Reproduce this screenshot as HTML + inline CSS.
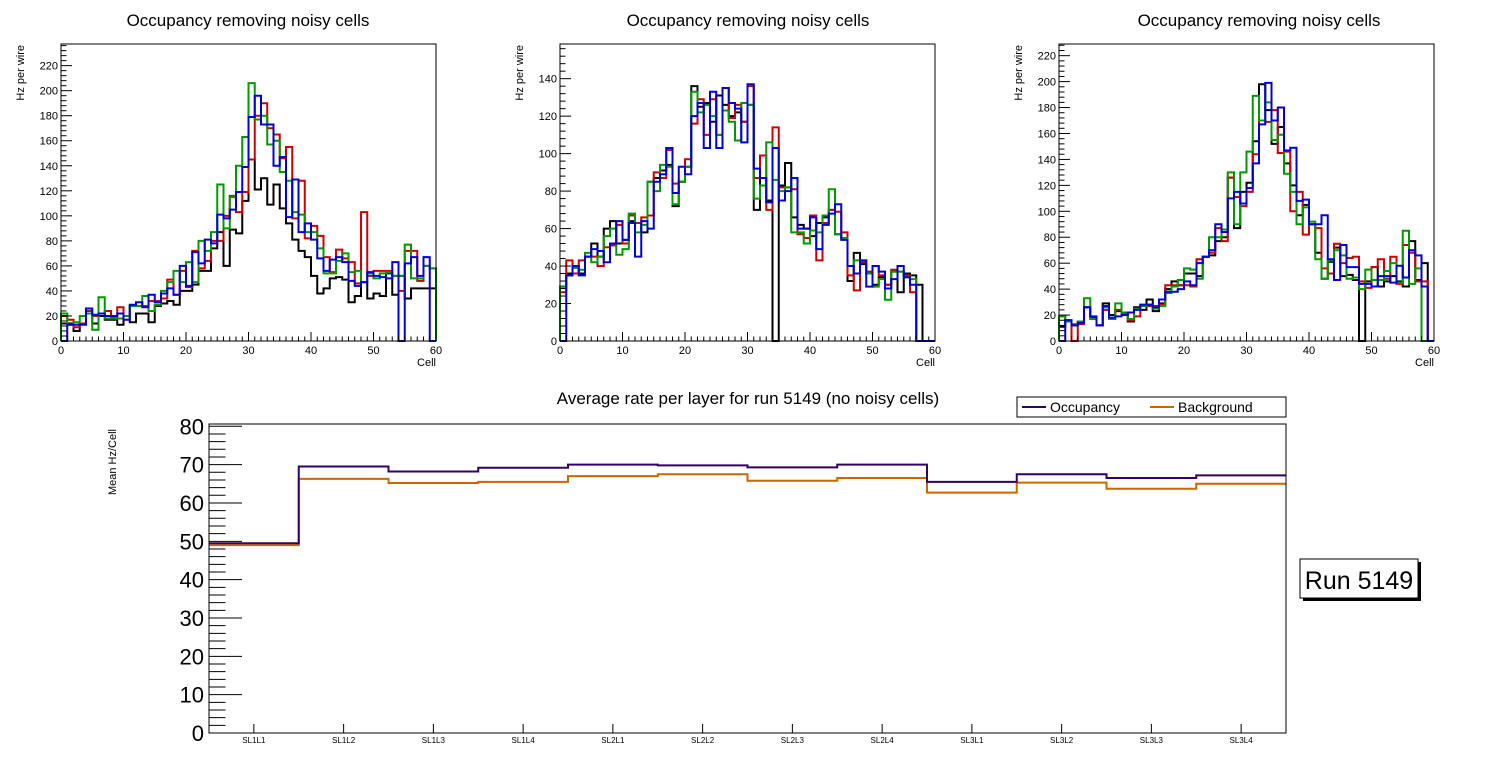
<!DOCTYPE html>
<html><head><meta charset="utf-8"><style>
html,body{margin:0;padding:0;background:#fff;}
svg{display:block;font-family:"Liberation Sans",sans-serif;}
</style></head><body>
<svg id="root" width="1496" height="772" viewBox="0 0 1496 772">
<rect width="1496" height="772" fill="#fff"/>
</svg>
<script>
const NS="http://www.w3.org/2000/svg";
const root=document.getElementById('root');
// ---------- data: top panels ----------
const cellBins=60;
const p1Black=[14,14,8,14,22,14,20,17,17,13,20,15,22,22,15,28,30,32,29,40,40,45,56,56,74,87,60,89,86,112,145,121,130,109,125,106,94,81,72,67,52,38,42,50,51,49,31,36,47,34,38,36,54,37,52,34,42,42,42,42];
const p1Red=[20,17,11,14,24,20,22,24,19,27,20,28,28,28,32,32,34,49,37,56,43,72,58,64,80,80,100,116,103,119,145,180,190,170,165,146,155,98,128,82,92,84,67,55,73,66,63,46,103,52,56,56,56,52,40,72,72,48,60,58];
const p1Green=[22,13,15,20,22,9,35,18,18,18,20,28,28,36,24,29,40,47,56,47,63,47,80,72,87,125,90,115,140,163,206,177,180,157,160,135,128,103,101,87,87,74,54,54,64,70,55,56,47,54,50,54,55,52,52,77,50,50,60,58];
const p1Blue=[0,13,13,13,26,21,22,20,20,22,17,29,31,27,37,31,38,42,37,60,44,71,62,81,78,101,98,105,119,139,179,196,173,173,140,147,99,129,87,94,81,66,56,65,67,63,48,44,47,55,52,51,50,63,0,62,67,52,67,0];
const p2Black=[29,36,40,36,45,52,45,60,64,52,54,64,63,58,85,87,91,94,72,85,93,136,125,127,117,131,126,120,122,117,126,70,87,75,0,83,95,66,62,60,56,63,66,70,57,55,32,47,41,36,30,34,30,37,26,36,35,30,0,0];
const p2Red=[26,43,36,43,45,45,40,50,51,62,52,67,63,66,67,90,87,102,84,85,97,116,129,110,129,110,135,119,126,117,136,87,99,70,114,82,82,81,57,55,67,43,63,70,69,58,35,27,42,37,40,35,30,38,37,35,26,0,0,0];
const p2Green=[29,35,39,38,47,42,45,56,60,46,49,68,58,62,85,80,94,93,73,85,93,133,122,126,120,110,123,117,107,127,126,76,83,106,86,80,82,58,58,52,59,58,67,81,57,55,40,43,43,36,29,33,22,37,37,34,33,0,0,0];
const p2Blue=[0,35,40,35,45,49,48,42,52,64,54,63,45,64,60,85,89,103,79,93,89,120,127,103,133,103,135,127,124,106,137,92,87,74,103,75,80,87,60,60,66,49,62,68,73,54,40,36,43,29,40,37,28,33,40,34,30,0,0,0];
const p3Black=[11,16,12,15,26,18,12,29,20,23,22,15,26,24,32,23,29,40,46,43,52,52,50,65,66,77,80,126,87,115,122,154,198,178,152,165,137,120,97,105,90,68,48,61,72,50,51,47,0,46,57,42,46,50,46,42,77,47,60,0];
const p3Red=[19,15,0,13,26,17,12,24,17,24,21,16,19,27,27,27,28,43,43,43,43,42,63,65,68,87,77,126,111,104,115,144,170,169,178,145,146,100,115,82,90,87,56,52,75,60,64,65,46,41,57,63,48,65,44,74,68,46,46,0];
const p3Green=[19,15,13,15,33,17,12,26,17,29,22,17,25,27,28,25,27,37,42,47,56,55,48,65,80,80,86,130,90,130,146,189,170,184,155,159,129,115,90,103,92,63,48,62,70,66,48,49,40,55,47,47,54,60,45,85,44,56,0,0];
const p3Blue=[0,16,12,14,26,19,12,27,18,19,20,22,24,28,28,26,32,38,38,40,46,43,60,65,70,90,84,110,115,106,118,137,167,199,170,180,147,149,108,109,90,90,97,63,47,74,57,57,44,44,42,50,50,45,58,49,70,66,42,0];
const p1YTicks=[0,20,40,60,80,100,120,140,160,180,200,220];
const p2YTicks=[0,20,40,60,80,100,120,140];
const p3YTicks=[0,20,40,60,80,100,120,140,160,180,200,220];
const cellTicks=[0,10,20,30,40,50,60];
// ---------- data: bottom ----------
const layers=["SL1L1","SL1L2","SL1L3","SL1L4","SL2L1","SL2L2","SL2L3","SL2L4","SL3L1","SL3L2","SL3L3","SL3L4"];
const occupancy=[49.5,69.5,68.2,69.2,70.0,69.8,69.3,70.0,65.5,67.5,66.5,67.2];
const background=[49.0,66.3,65.2,65.5,67.0,67.5,65.8,66.5,62.7,65.3,63.7,65.0];
const rateTicks=[0,10,20,30,40,50,60,70,80];

function el(tag,attrs,parent,text){const e=document.createElementNS(NS,tag);for(const k in attrs)e.setAttribute(k,attrs[k]);if(text!==undefined)e.textContent=text;(parent||root).appendChild(e);return e;}

function panel(name,L,R,T,B,ymax,series,yTicks,cx){
  const g=el('g',{});
  
  
  const xs=v=>L+(R-L)*v/cellBins, ys=v=>B-(B-T)*v/ymax;
  const t=el('text',{x:cx,y:26,'font-size':17,'text-anchor':'middle'},g,'Occupancy removing noisy cells');
  
  const colors=['#000000','#d00000','#009900','#0000dd'];
  const names=['series-black','series-red','series-green','series-blue'];
  series.forEach((s,si)=>{
    let d=`M${xs(0)},${ys(0)}`;
    s.forEach((v,i)=>{d+=` L${xs(i)},${ys(v)} L${xs(i+1)},${ys(v)}`;});
    d+=` L${xs(s.length)},${ys(0)}`;
    const p=el('path',{d,fill:'none',stroke:colors[si],'stroke-width':2},g);
    
  });
  const fr=el('rect',{x:L,y:T,width:R-L,height:B-T,fill:'none',stroke:'#000','stroke-width':1},g);
  
  for(let i=0;i<=cellBins;i++){
    const maj=i%10===0;
    el('line',{x1:xs(i),x2:xs(i),y1:B,y2:B-(maj?9:4.5),stroke:'#000','stroke-width':1},g);
  }
  cellTicks.forEach(v=>{const tx=el('text',{x:xs(v),y:B+13,'font-size':11,'text-anchor':'middle'},g,String(v));});
  const step=yTicks[1]-yTicks[0];
  for(let v=0;v<=ymax;v+=step/5){
    const maj=Math.abs(v/step-Math.round(v/step))<1e-6;
    el('line',{x1:L,x2:L+(maj?11:5.5),y1:ys(v),y2:ys(v),stroke:'#000','stroke-width':1},g);
  }
  yTicks.forEach(v=>{const tx=el('text',{x:L-3,y:ys(v)+4,'font-size':11,'text-anchor':'end'},g,String(v));});
  const xt=el('text',{x:R,y:B+25,'font-size':11,'text-anchor':'end'},g,'Cell');
  
  const yt=el('text',{x:0,y:0,'font-size':11,'text-anchor':'end',transform:`translate(${L-37},${T+1}) rotate(-90)`},g,'Hz per wire');
  
}
panel('panel-1',61,436,44,341,237.3,[p1Black,p1Red,p1Green,p1Blue],p1YTicks,248);
panel('panel-2',560,935,44,341,158.5,[p2Black,p2Red,p2Green,p2Blue],p2YTicks,748);
panel('panel-3',1059,1434,44,341,229,[p3Black,p3Red,p3Green,p3Blue],p3YTicks,1259);

// ---------- bottom chart ----------
(function(){
  const L=209,R=1286,T=424,B=733,ymax=80.6;
  const g=el('g',{});
  
  
  const bw=(R-L)/layers.length;
  const xs=i=>L+bw*i, ys=v=>B-(B-T)*v/ymax;
  const t=el('text',{x:748,y:404,'font-size':17,'text-anchor':'middle'},g,'Average rate per layer for run 5149 (no noisy cells)');
  
  [[background,'#cc6600','background-line'],[occupancy,'#330066','occupancy-line']].forEach(([s,c,n])=>{
    let d=`M${xs(0)},${ys(s[0])}`;
    s.forEach((v,i)=>{d+=` L${xs(i)},${ys(v)} L${xs(i+1)},${ys(v)}`;});
    const p=el('path',{d,fill:'none',stroke:c,'stroke-width':2},g);
    
  });
  const fr=el('rect',{x:L,y:T,width:R-L,height:B-T,fill:'none',stroke:'#000','stroke-width':1},g);
  
  for(let v=0;v<=80;v+=2){
    const maj=v%10===0;
    el('line',{x1:L,x2:L+(maj?33:16.5),y1:ys(v),y2:ys(v),stroke:'#000','stroke-width':1},g);
  }
  rateTicks.forEach(v=>{const tx=el('text',{x:L-5,y:ys(v)+8,'font-size':22,'text-anchor':'end'},g,String(v));});
  layers.forEach((n,i)=>{
    const cx=xs(i)+bw/2;
    el('line',{x1:cx,x2:cx,y1:B,y2:B-9,stroke:'#000','stroke-width':1},g);
    const tx=el('text',{x:cx,y:B+10,'font-size':8,'text-anchor':'middle'},g,n);
    
  });
  const yt=el('text',{x:0,y:0,'font-size':11,'text-anchor':'middle',transform:'translate(116,462) rotate(-90)'},g,'Mean Hz/Cell');
  
  // legend
  const lg=el('g',{},g);
  
  el('rect',{x:1017,y:397,width:269,height:20,fill:'#fff',stroke:'#000','stroke-width':1},lg);
  el('line',{x1:1022,x2:1046,y1:407,y2:407,stroke:'#330066','stroke-width':2},lg);
  const e1=el('text',{x:1050,y:412,'font-size':14},lg,'Occupancy');
  
  el('line',{x1:1150,x2:1174,y1:407,y2:407,stroke:'#cc6600','stroke-width':2},lg);
  const e2=el('text',{x:1178,y:412,'font-size':14},lg,'Background');
  
  // run box
  const rb=el('g',{},root);
  
  el('rect',{x:1303,y:562,width:118,height:39,fill:'#000'},rb);
  el('rect',{x:1300,y:559,width:118,height:39,fill:'#fff',stroke:'#000','stroke-width':1},rb);
  el('text',{x:1359,y:589,'font-size':25,'text-anchor':'middle'},rb,'Run 5149');
})();
</script>
</body></html>
